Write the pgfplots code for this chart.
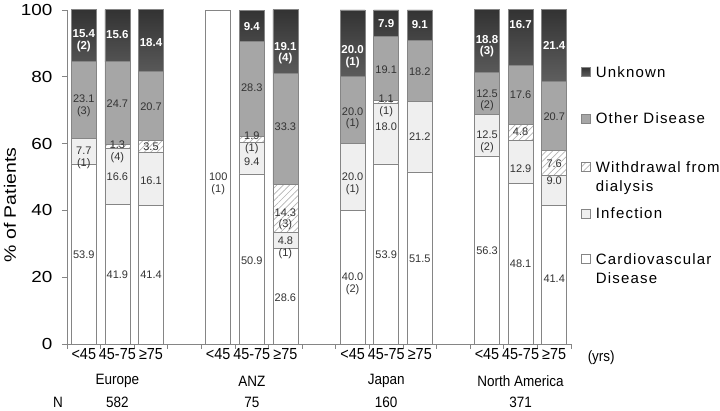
\documentclass[border=0pt]{standalone}
\usepackage{fontspec}
\setmainfont{Liberation Sans}
\newfontfamily\midfont[FakeStretch=0.9]{Liberation Sans}
\newfontfamily\wide[FakeStretch=1.18]{Liberation Sans}
\newfontfamily\widefont[LetterSpace=8]{Liberation Sans}
\usepackage{pgfplots}
\pgfplotsset{compat=1.18}
\usetikzlibrary{patterns.meta}
\definecolor{cvd}{HTML}{FFFFFF}
\definecolor{inf}{HTML}{EFEFEF}
\definecolor{oth}{HTML}{A6A6A6}
\definecolor{edge}{HTML}{858585}
\definecolor{txt}{HTML}{333333}
\pgfplotstableread{
x   cvd   inf   wd    oth   unk
0   53.9  7.7   0     23.1  15.4
1   41.9  16.6  1.3   24.7  15.6
2   41.4  16.1  3.5   20.7  18.4
4   100   0     0     0     0
5   50.9  9.4   1.9   28.3  9.4
6   28.6  4.8   14.3  33.3  19.1
8   40.0  20.0  0     20.0  20.0
9   53.9  18.0  1.1   19.1  7.9
10  51.5  21.2  0     18.2  9.1
12  56.3  12.5  0     12.5  18.8
13  48.1  12.9  4.8   17.6  16.7
14  41.4  9.0   7.6   20.7  21.4
}\datatab
\tikzset{
  lbl/.style={font=\fontsize{11}{11.5}\selectfont, text=txt, align=center, inner sep=0pt},
  lblw/.style={font=\bfseries\fontsize{11.5}{11.5}\selectfont, text=white, align=center, inner sep=0pt},
  blbl/.style={font=\midfont\fontsize{15}{17}\selectfont, inner sep=0pt},
}
\newcounter{lc}
\gdef\laterlabels{}
% #1 style, #2 x, #3 y, #4 yshift, #5 text
\newcommand\mklab[5]{%
  \stepcounter{lc}%
  \edef\tmpcmd{\noexpand\coordinate (L\arabic{lc}) at (axis cs:#2,#3);}\tmpcmd
  \xdef\laterlabels{\unexpanded\expandafter{\laterlabels}\noexpand\node[#1, yshift=#4] at (L\arabic{lc}) {\unexpanded{#5}};}%
}
\newcommand\lab[3]{\mklab{lbl}{#1}{#2}{0pt}{#3}}
\newcommand\labw[3]{\mklab{lblw}{#1}{#2}{0pt}{#3}}
\newcommand\blab[3]{\mklab{blbl}{#1}{0}{#2}{#3}}
\newcommand\st[1]{\rule[-4pt]{0pt}{#1pt}}
\begin{document}
\begin{tikzpicture}[x=1pt,y=1pt]
\path[use as bounding box] (0,0) rectangle (720,411);
\begin{axis}[
  at={(67pt,67pt)}, anchor=south west,
  width=504pt, height=334pt, scale only axis,
  ybar stacked, bar width=25pt,
  xmin=-0.5, xmax=14.5, ymin=0, ymax=100,
  clip=false,
  axis x line*=bottom, axis y line*=left,
  axis line style={draw=edge, line width=0.8pt, -},
  tick align=outside,
  tick style={draw=edge, line width=0.8pt},
  major tick length=5pt,
  xtick={-0.5,0.5,1.5,2.5,3.5,4.5,5.5,6.5,7.5,8.5,9.5,10.5,11.5,12.5,13.5,14.5},
  xticklabels={},
  extra x ticks={0,1,2,4,5,6,8,9,10,12,13,14},
  extra x tick labels={<45,45-75,≥75,<45,45-75,≥75,<45,45-75,≥75,<45,45-75,≥75},
  extra x tick style={major tick length=0pt, tick style={draw=none}},
  x tick label style={font=\midfont\fontsize{16}{18}\selectfont, inner sep=1pt, yshift=-3pt},
  ytick={0,20,40,60,80,100},
  /pgf/number format/assume math mode=true,
  y tick label style={font=\wide\fontsize{16}{18}\selectfont, xshift=-6pt},
  ylabel={\% of Patients},
  every axis y label/.style={at={(axis description cs:-0.113,0.416)}, rotate=90, anchor=center, font=\wide\fontsize{16.5}{18}\selectfont},
  every axis plot/.append style={draw=edge, line width=0.8pt},
  legend style={at={(1,0.838)}, anchor=north west, xshift=10pt, draw=none, fill=none, inner sep=0pt,
     font=\widefont\fontsize{15}{19}\selectfont, row sep=0pt, column sep=3pt,
     cells={anchor=base west, inner sep=0pt}},
  reverse legend,
  legend image code/.code={\draw[#1, draw=edge, line width=0.6pt] (0pt,0.5pt) rectangle (9pt,9.5pt);},
]
\addplot[fill=cvd] table[x=x, y=cvd] {\datatab};
\addlegendentry{\begin{tabular}[t]{@{}l@{}}\st{44}Cardiovascular\\Disease\st{0}\end{tabular}}
\addplot[fill=inf] table[x=x, y=inf] {\datatab};
\addlegendentry{\st{45}Infection}
\addplot[pattern={Lines[angle=45, distance=4.5pt, line width=0.7pt]}, pattern color=black!30] table[x=x, y=wd] {\datatab};
\addlegendentry{\begin{tabular}[t]{@{}l@{}}\st{47}Withdrawal from\\dialysis\st{0}\end{tabular}}
\addplot[fill=oth] table[x=x, y=oth] {\datatab};
\addlegendentry{\st{45}Other Disease}
\addplot[top color=black!80, bottom color=black!63] table[x=x, y=unk] {\datatab};
\addlegendentry{\st{12}Unknown}
% Europe
\labw{0}{90.8}{15.4\\(2)} \lab{0}{71.3}{23.1\\(3)} \lab{0}{55.8}{7.7\\(1)} \lab{0}{26.6}{53.9}
\labw{1}{92.5}{15.6} \lab{1}{72}{24.7} \lab{1}{57.6}{1.3\\(4)} \lab{1}{50}{16.6} \lab{1}{20.7}{41.9}
\labw{2}{90.4}{18.4} \lab{2}{71}{20.7} \lab{2}{59}{3.5} \lab{2}{49}{16.1} \lab{2}{20.7}{41.4}
% ANZ
\lab{4}{48}{100\\(1)}
\labw{5}{95}{9.4} \lab{5}{76.6}{28.3} \lab{5}{60.2}{1.9\\(1)} \lab{5}{54.5}{9.4} \lab{5}{25}{50.9}
\labw{6}{87}{19.1\\(4)} \lab{6}{65}{33.3} \lab{6}{37.3}{14.3\\(3)} \lab{6}{28.8}{4.8\\(1)} \lab{6}{14}{28.6}
% Japan
\labw{8}{86}{20.0\\(1)} \lab{8}{67.5}{20.0\\(1)} \lab{8}{48}{20.0\\(1)} \lab{8}{18}{40.0\\(2)}
\labw{9}{96}{7.9} \lab{9}{82}{19.1} \lab{9}{71.3}{1.1\\(1)} \lab{9}{65}{18.0} \lab{9}{26.6}{53.9}
\labw{10}{95.5}{9.1} \lab{10}{81.5}{18.2} \lab{10}{62}{21.2} \lab{10}{25.4}{51.5}
% North America
\labw{12}{89.2}{18.8\\(3)} \lab{12}{73}{12.5\\(2)} \lab{12}{60.5}{12.5\\(2)} \lab{12}{27.8}{56.3}
\labw{13}{95.5}{16.7} \lab{13}{74.5}{17.6} \lab{13}{63.5}{4.8} \lab{13}{52.6}{12.9} \lab{13}{24}{48.1}
\labw{14}{89.5}{21.4} \lab{14}{68}{20.7} \lab{14}{54}{7.6} \lab{14}{49}{9.0} \lab{14}{19.5}{41.4}
% below axis
\blab{15.4}{-14pt}{(yrs)}
\blab{1}{-37pt}{Europe} \blab{5}{-37pt}{ANZ} \blab{9}{-37pt}{Japan} \blab{13}{-37pt}{North America}
\blab{-0.77}{-58pt}{N} \blab{1}{-58pt}{582} \blab{5}{-58pt}{75} \blab{9}{-58pt}{160} \blab{13}{-58pt}{371}
\end{axis}
\laterlabels
\end{tikzpicture}
\end{document}
